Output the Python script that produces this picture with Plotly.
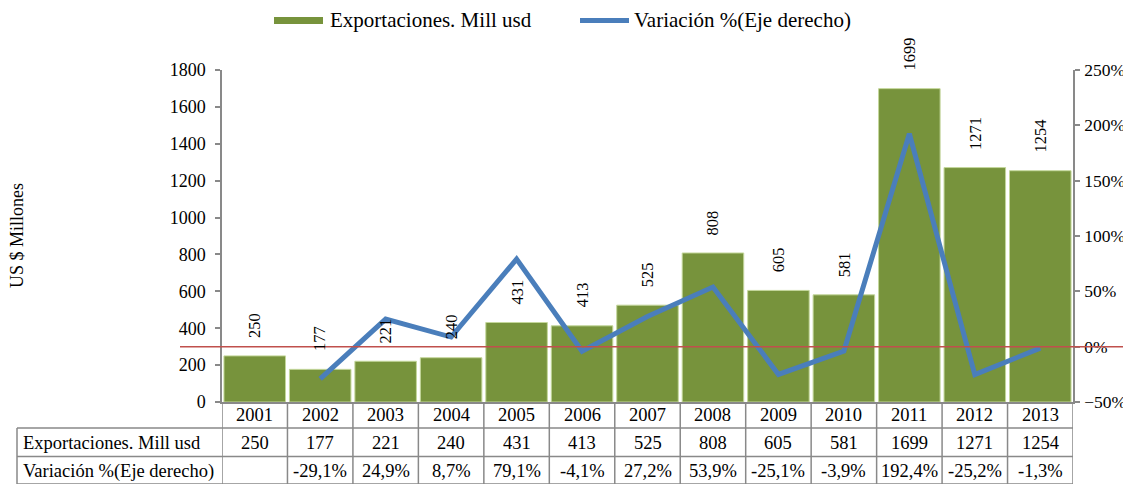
import plotly.graph_objects as go

years = ["2001", "2002", "2003", "2004", "2005", "2006", "2007", "2008", "2009", "2010", "2011", "2012", "2013"]
exports = [250, 177, 221, 240, 431, 413, 525, 808, 605, 581, 1699, 1271, 1254]
variation = [None, -29.1, 24.9, 8.7, 79.1, -4.1, 27.2, 53.9, -25.1, -3.9, 192.4, -25.2, -1.3]

bar_name = "Exportaciones. Mill usd"
line_name = "Variación %(Eje derecho)"

# page has an 8px body margin; figure sized so that it fills the 1131x484 window
OFF = 8
W, H = 1131 - OFF, 484 - OFF
L, R, T, B = 222, 1073, 70, 402   # target pixel coords of the plot area in the window
FONT = "Liberation Serif, Times New Roman, serif"
GREEN = "#77933C"
BLUE = "#4A7EBB"
RED = "#C0504D"
GRID = "#898989"


def px(p):
    return (p - L) / (R - L)


def py(p):
    return (B - p) / (B - T)


def fmt_pct(v):
    return "" if v is None else f"{v:.1f}".replace(".", ",") + "%"


idx = list(range(len(years)))

fig = go.Figure()
fig.add_trace(go.Bar(
    x=years, y=exports, name=bar_name,
    marker=dict(color=GREEN, line=dict(color="#C4D79B", width=1)),
    showlegend=False, yaxis="y",
))
fig.add_trace(go.Scatter(
    x=years, y=variation, name=line_name, mode="lines",
    line=dict(color=BLUE, width=5), showlegend=False, yaxis="y2",
))

ann = []
# data labels above bars
for i, v in zip(idx, exports):
    ann.append(dict(x=i, y=v, xref="x", yref="y", text=str(v), textangle=-90,
                    showarrow=False, yanchor="bottom", xanchor="center", yshift=16,
                    font=dict(family=FONT, size=16.5, color="#000")))

# table text
TS = 18.5
row_y = [415, 442.5, 471]
for i, yr, v, pc in zip(idx, years, exports, variation):
    for txt, yy in [(yr, row_y[0]), (str(v), row_y[1]), (fmt_pct(pc), row_y[2])]:
        ann.append(dict(x=i, y=py(yy), xref="x", yref="paper", text=txt, showarrow=False,
                        xanchor="center", yanchor="middle",
                        font=dict(family=FONT, size=TS, color="#000")))
for name, yy in [(bar_name, row_y[1]), (line_name, row_y[2])]:
    ann.append(dict(x=px(21), y=py(yy), xref="paper", yref="paper", text=name, showarrow=False,
                    xanchor="left", yanchor="middle", font=dict(family=FONT, size=TS, color="#000")))

# axis title
ann.append(dict(x=px(17), y=0.5, xref="paper", yref="paper", text="US $ Millones", textangle=-90,
                showarrow=False, xanchor="center", yanchor="middle",
                font=dict(family=FONT, size=18, color="#000")))

# legend
ann.append(dict(x=px(328), y=py(20), xref="paper", yref="paper", text=bar_name, showarrow=False,
                xanchor="left", yanchor="middle", font=dict(family=FONT, size=21, color="#000")))
ann.append(dict(x=px(632), y=py(20), xref="paper", yref="paper", text=line_name, showarrow=False,
                xanchor="left", yanchor="middle", font=dict(family=FONT, size=21, color="#000")))

shapes = []
shapes.append(dict(type="rect", xref="paper", yref="paper", x0=px(274), x1=px(323), y0=py(17), y1=py(24),
                   fillcolor=GREEN, line=dict(width=0)))
shapes.append(dict(type="line", xref="paper", yref="paper", x0=px(580), x1=px(629), y0=py(20.5), y1=py(20.5),
                   line=dict(color=BLUE, width=5)))

# zero line on right axis
shapes.append(dict(type="line", xref="paper", yref="y2", x0=px(180), x1=px(1135), y0=0, y1=0,
                   line=dict(color=RED, width=1.5)))

# table grid
n = len(years)
for i in range(n + 1):
    shapes.append(dict(type="line", xref="x", yref="paper", x0=i - 0.5, x1=i - 0.5,
                       y0=py(B), y1=py(490), line=dict(color=GRID, width=1.5)))
for yy in [428, 456.5, 484]:
    shapes.append(dict(type="line", xref="paper", yref="paper", x0=px(17), x1=1.0,
                       y0=py(yy), y1=py(yy), line=dict(color=GRID, width=1.5)))
shapes.append(dict(type="line", xref="paper", yref="paper", x0=px(17), x1=px(17),
                   y0=py(428), y1=py(490), line=dict(color=GRID, width=1.5)))

fig.update_layout(
    width=W, height=H,
    margin=dict(l=L - OFF, r=W - (R - OFF), t=T - OFF, b=H - (B - OFF), autoexpand=False),
    paper_bgcolor="white", plot_bgcolor="white",
    font=dict(family=FONT, size=18, color="#000"),
    bargap=0.06,
    showlegend=False,
    xaxis=dict(type="category", range=[-0.5, n - 0.5], showticklabels=False, ticks="",
               showline=True, linecolor=GRID, linewidth=1.5, showgrid=False, zeroline=False),
    yaxis=dict(range=[0, 1800], dtick=200, showline=True, linecolor=GRID, linewidth=1.5,
               ticks="outside", ticklen=5, tickcolor=GRID, tickwidth=1.5, showgrid=False,
               ticklabelstandoff=6,
               zeroline=False, tickfont=dict(family=FONT, size=18, color="#000")),
    yaxis2=dict(range=[-50, 250], dtick=50, overlaying="y", side="right", ticksuffix="%",
                showline=True, linecolor=GRID, linewidth=1.5, ticks="outside", ticklen=5,
                tickcolor=GRID, tickwidth=1.5, showgrid=False, zeroline=False,
                ticklabelstandoff=1,
                tickfont=dict(family=FONT, size=17.5, color="#000")),
    annotations=ann,
    shapes=shapes,
)

fig.write_html("out.html")
